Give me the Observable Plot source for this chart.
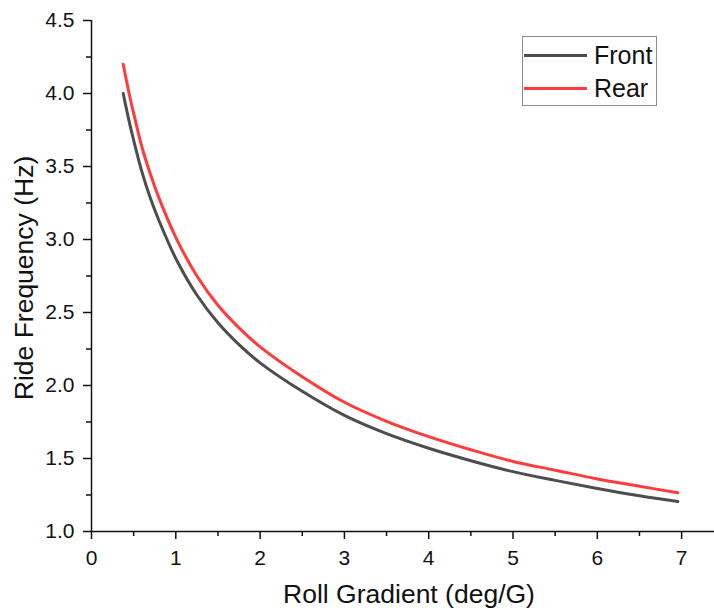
<!DOCTYPE html>
<html>
<head>
<meta charset="utf-8">
<script src="https://cdn.jsdelivr.net/npm/d3@7"></script>
<script src="https://cdn.jsdelivr.net/npm/@observablehq/plot@0.6"></script>
<style>
  html, body { margin: 0; padding: 0; background: #fff; }
  #wrap { position: relative; width: 714px; height: 610px; font-family: "Liberation Sans", Arial, sans-serif; }
  #legend { position: absolute; left: 522px; top: 36px; width: 135px; height: 70px; box-sizing: border-box; border: 1px solid #8c8c8c; background: #fff; }
  .lline { position: absolute; left: 1px; width: 63px; height: 3px; }
  .ltext { position: absolute; left: 71px; font-size: 25px; line-height: 25px; color: #111; white-space: nowrap; }
</style>
</head>
<body>
<div id="wrap"></div>
<script>
// Data
const rollGradient = [0.376, 0.45, 0.5, 0.6, 0.7, 0.8, 1.0, 1.25, 1.5, 1.75, 2.0, 2.5, 3.0, 3.5, 4.0, 4.5, 5.0, 5.5, 6.0, 6.5, 6.955];
const frontFreq    = [4.00, 3.80, 3.68, 3.46, 3.28, 3.13, 2.87, 2.62, 2.43, 2.28, 2.155, 1.96, 1.795, 1.67, 1.57, 1.485, 1.41, 1.35, 1.295, 1.245, 1.205];
const rearFreq     = [4.20, 3.99, 3.865, 3.63, 3.445, 3.285, 3.015, 2.75, 2.55, 2.395, 2.265, 2.06, 1.885, 1.755, 1.65, 1.56, 1.48, 1.42, 1.36, 1.31, 1.265];
const seriesNames  = ["Front", "Rear"];
const seriesColors = ["#4d4d4d", "#ff3b3b"];
const xMajorTicks  = [0, 1, 2, 3, 4, 5, 6, 7];
const xMinorTicks  = [0.5, 1.5, 2.5, 3.5, 4.5, 5.5, 6.5];
const yMajorTicks  = [1.0, 1.5, 2.0, 2.5, 3.0, 3.5, 4.0, 4.5];
const yMinorTicks  = [1.25, 1.75, 2.25, 2.75, 3.25, 3.75, 4.25];
const xTitle = "Roll Gradient (deg/G)";
const yTitle = "Ride Frequency (Hz)";

const rows = [];
rollGradient.forEach((x, i) => {
  rows.push({x, y: frontFreq[i], s: seriesNames[0]});
});
rollGradient.forEach((x, i) => {
  rows.push({x, y: rearFreq[i], s: seriesNames[1]});
});

const font = "Liberation Sans, Arial, sans-serif";

const chart = Plot.plot({
  width: 714,
  height: 610,
  marginLeft: 91,
  marginRight: 0,
  marginTop: 20,
  marginBottom: 79,
  style: {fontFamily: font, fontSize: "21px", color: "#111", background: "#fff"},
  x: {domain: [0, 7.39]},
  y: {domain: [1, 4.5]},
  color: {domain: seriesNames, range: seriesColors},
  marks: [
    Plot.axisX({ticks: xMajorTicks, tickSize: 8, tickPadding: 11, tickFormat: d3.format("d"), label: null, fontSize: 21, strokeWidth: 1.5, stroke: "#111", fill: "#111"}),
    Plot.axisX({ticks: xMinorTicks, tickSize: 5, tickFormat: () => "", label: null, strokeWidth: 1.5, stroke: "#111"}),
    Plot.axisY({ticks: yMajorTicks, tickSize: 8, tickPadding: 9, tickFormat: d3.format(".1f"), label: null, fontSize: 21, strokeWidth: 1.5, stroke: "#111", fill: "#111"}),
    Plot.axisY({ticks: yMinorTicks, tickSize: 5, tickFormat: () => "", label: null, strokeWidth: 1.5, stroke: "#111"}),
    Plot.ruleY([1], {stroke: "#111", strokeWidth: 1.5}),
    Plot.ruleX([0], {stroke: "#111", strokeWidth: 1.5}),
    Plot.line(rows, {x: "x", y: "y", z: "s", stroke: "s", strokeWidth: 3, curve: "catmull-rom"}),
    Plot.text([xTitle], {frameAnchor: "bottom", textAnchor: "middle", dx: 6, dy: 63, fontSize: 26.5, fill: "#111", lineAnchor: "middle"}),
    Plot.text([yTitle], {frameAnchor: "left", textAnchor: "middle", rotate: -90, dx: -67, dy: 2, fontSize: 26.5, fill: "#111", lineAnchor: "middle"})
  ]
});

const wrap = document.getElementById("wrap");
wrap.appendChild(chart);

// Legend
const legend = document.createElement("div");
legend.id = "legend";
const centers = [18, 51];
seriesNames.forEach((name, i) => {
  const ln = document.createElement("div");
  ln.className = "lline";
  ln.style.top = (centers[i] - 1.5) + "px";
  ln.style.background = seriesColors[i];
  legend.appendChild(ln);
  const tx = document.createElement("div");
  tx.className = "ltext";
  tx.style.top = (centers[i] - 12.5) + "px";
  tx.textContent = name;
  legend.appendChild(tx);
});
wrap.appendChild(legend);
</script>
</body>
</html>
